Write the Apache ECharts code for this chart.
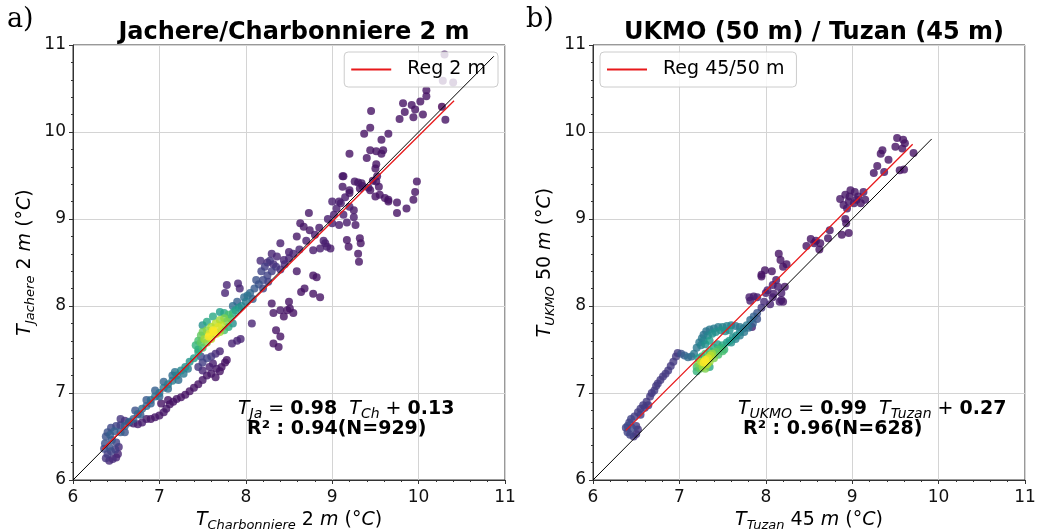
<!DOCTYPE html>
<html>
<head>
<meta charset="utf-8">
<script src="https://cdn.jsdelivr.net/npm/echarts@6/dist/echarts.min.js"></script>
<style>
  html, body { margin: 0; padding: 0; background: #fff; }
  #main { width: 1038px; height: 532px; }
</style>
</head>
<body>
<div id="main"></div>
<script>
// points : [T station x, T station y, densite relative 0..1]
var jachereData = [
  [6.38,6.25,.15],[6.42,6.22,.12],[6.46,6.24,.12],[6.5,6.26,.1],[6.52,6.3,.1],[6.4,6.3,.18],[6.44,6.33,.2],
  [6.49,6.35,.18],[6.36,6.36,.22],[6.42,6.38,.25],[6.53,6.38,.12],[6.5,6.43,.2],[6.37,6.42,.25],[6.45,6.46,.28],
  [6.38,6.5,.25],[6.4,6.55,.25],[6.44,6.6,.22],[6.5,6.62,.2],[6.55,6.63,.18],[6.48,6.56,.3],[6.43,6.52,.3],
  [6.55,6.55,.3],[6.6,6.62,.3],[6.65,6.67,.32],[6.7,6.7,.3],[6.75,6.76,.33],[6.8,6.82,.35],[6.85,6.85,.33],
  [6.9,6.92,.35],[6.95,6.96,.38],[7.0,7.0,.38],[7.05,7.06,.4],[7.1,7.1,.42],[7.15,7.14,.42],[7.2,7.2,.45],
  [7.25,7.26,.47],[7.3,7.3,.5],[7.35,7.36,.52],[7.4,7.4,.55],[7.45,7.47,.6],
  [6.72,6.8,.25],[6.85,6.92,.28],[6.95,7.03,.3],[7.05,7.13,.32],[7.15,7.2,.35],[7.28,7.22,.4],[7.22,7.15,.35],
  [7.33,7.28,.4],[6.6,6.55,.25],[6.78,6.75,.28],[6.9,6.88,.3],[7.0,6.96,.32],[7.1,7.05,.35],[7.18,7.24,.38],
  [6.6,6.68,.12],[6.65,6.66,.1],[6.7,6.65,.08],[6.75,6.64,.08],[6.8,6.66,.08],[6.85,6.7,.06],[6.9,6.7,.06],
  [6.95,6.72,.06],[7.0,6.74,.06],[7.05,6.78,.06],[6.55,6.7,.15],
  [7.08,6.82,.06],[7.12,6.87,.05],[7.16,6.9,.05],[7.2,6.93,.05],[7.25,6.95,.05],[7.3,6.98,.05],[7.35,7.02,.05],
  [7.4,7.06,.05],[7.45,7.1,.05],[7.1,6.92,.05],[7.02,6.88,.05],
  [7.5,7.15,.06],[7.55,7.2,.06],[7.6,7.22,.06],[7.65,7.18,.05],[7.7,7.25,.05],[7.72,7.3,.05],[7.76,7.35,.05],
  [7.78,7.38,.05],[7.58,7.3,.08],[7.5,7.26,.1],[7.62,7.34,.08],[7.66,7.28,.06],
  [7.45,7.3,.15],[7.5,7.35,.18],[7.55,7.4,.2],[7.48,7.42,.22],[7.6,7.42,.15],[7.65,7.45,.12],[7.7,7.48,.1],
  [7.42,7.55,.65],[7.45,7.6,.7],[7.48,7.66,.75],[7.5,7.7,.78],[7.55,7.72,.82],[7.6,7.76,.88],[7.65,7.8,.9],
  [7.7,7.84,.85],[7.75,7.86,.8],[7.8,7.9,.7],[7.85,7.92,.6],[7.52,7.62,.85],[7.58,7.68,.95],[7.62,7.72,1.0],
  [7.68,7.76,.95],[7.72,7.78,.9],[7.78,7.82,.8],[7.55,7.58,.8],[7.6,7.62,.9],[7.66,7.68,.92],[7.7,7.7,.85],
  [7.48,7.58,.75],[7.5,7.52,.7],[7.45,7.5,.62],[7.82,7.86,.7],[7.88,7.95,.55],[7.92,7.98,.5],[7.75,7.92,.6],
  [7.7,7.93,.55],[7.62,7.88,.6],[7.55,7.82,.6],[7.5,7.78,.5],[7.8,7.76,.6],[7.85,7.8,.5],[7.75,7.72,.7],
  [7.57,7.65,1.0],[7.63,7.7,1.0],
  [7.95,8.0,.45],[8.0,8.05,.42],[8.02,8.12,.38],[7.98,8.1,.35],[8.05,8.15,.33],[8.08,8.08,.3],[7.9,8.05,.3],
  [7.85,8.0,.35],[8.1,8.2,.28],[8.15,8.25,.25],[8.2,8.3,.22],[8.25,8.35,.2],[8.3,8.4,.18],[8.35,8.45,.15],
  [8.22,8.45,.18],[8.28,8.52,.15],[8.18,8.4,.2],[8.12,8.3,.25],[8.2,8.2,.2],[8.26,8.28,.18],[8.4,8.42,.12],
  [9.13,9.49,.05],[9.3,9.42,.06],[9.35,9.38,.06],[9.42,9.36,.05],[9.47,9.44,.05],[9.0,9.2,.08],[9.1,9.18,.08],
  [9.2,9.14,.08],[9.25,9.1,.06],[9.13,9.05,.08],[9.25,9.02,.07],[9.17,8.96,.07],[9.27,8.93,.06],[9.08,8.93,.07],
  [9.32,8.78,.05],[9.33,8.72,.05],[9.3,8.6,.05],[9.31,8.51,.05],[9.61,9.24,.05],[9.75,9.07,.05],[9.65,9.2,.05],
  [9.17,8.76,.05],[9.19,8.68,.05],[8.9,8.75,.08],[8.94,8.68,.08],[8.86,8.66,.08],[8.98,8.66,.07],[8.78,8.64,.07],
  [8.92,8.72,.08],[8.73,9.07,.06],[8.63,8.95,.06],[8.67,8.91,.06],[8.59,8.8,.06],[8.74,8.87,.06],[8.4,8.72,.08],
  [8.5,8.62,.08],[8.36,8.57,.1],[8.44,8.53,.1],[8.3,8.6,.1],[8.59,8.4,.06],[8.78,8.35,.05],[8.82,8.33,.05],
  [8.68,8.2,.05],[8.64,8.16,.05],[8.86,8.1,.05],[8.78,8.14,.05],[8.5,8.05,.05],[8.51,7.97,.05],[8.48,7.95,.05],
  [8.55,7.92,.05],[8.3,8.03,.06],[8.4,7.95,.06],[8.32,7.92,.06],[8.44,7.88,.05],[8.07,7.8,.1],[7.9,7.6,.1],
  [7.94,7.62,.1],[7.84,7.57,.1],[8.35,7.72,.05],[8.4,7.65,.05],[8.32,7.57,.05],[8.38,7.53,.05],[7.76,8.15,.1],
  [7.91,8.26,.1],[7.78,8.24,.1],[7.93,8.2,.1],[8.17,8.52,.12],[8.25,8.5,.12],[8.32,8.48,.12],
  [8.95,9.0,.08],[9.02,9.05,.08],[9.05,9.12,.08],[9.08,9.2,.07],[9.15,9.25,.07],[9.2,9.3,.06],[9.0,8.95,.08],
  [8.85,8.9,.07],[8.8,8.82,.07],[8.7,8.75,.08],[8.62,8.65,.1],[8.55,8.6,.1],[8.45,8.48,.12],[8.5,8.55,.1],
  [10.3,10.89,.05],[10.28,10.59,.05],[10.4,10.57,.05],[10.09,10.48,.05],[10.09,10.41,.05],[10.02,10.35,.05],
  [9.82,10.33,.05],[9.92,10.31,.05],[9.96,10.26,.05],[9.84,10.23,.05],[9.78,10.15,.05],[9.94,10.17,.05],
  [10.05,10.2,.05],[9.45,10.24,.05],[9.44,10.05,.05],[9.37,9.98,.05],[9.65,9.98,.05],[9.57,9.91,.05],
  [9.51,9.78,.05],[9.44,9.79,.05],[9.59,9.79,.05],[9.57,9.75,.05],[9.4,9.7,.05],[9.2,9.75,.05],[9.51,9.63,.05],
  [9.5,9.58,.05],[9.52,9.49,.05],[9.51,9.43,.05],[9.12,9.49,.06],[9.12,9.37,.06],[9.26,9.43,.06],[9.34,9.41,.06],
  [9.32,9.35,.06],[9.2,9.33,.06],[9.44,9.33,.05],[9.54,9.37,.05],[9.55,9.28,.05],[9.5,9.26,.05],[9.65,9.22,.05],
  [9.75,9.19,.05],[9.86,9.12,.05],[9.94,9.22,.05],[9.98,9.43,.05],[9.96,9.31,.05],[10.31,10.14,.05],
  [10.27,10.29,.0]
];

var ukmoData = [
  [6.4,6.55,.2],[6.43,6.52,.2],[6.47,6.5,.15],[6.5,6.53,.15],[6.52,6.58,.15],[6.45,6.6,.22],[6.4,6.62,.22],
  [6.42,6.66,.2],[6.38,6.6,.2],[6.5,6.62,.18],[6.44,6.7,.2],
  [6.48,6.73,.18],[6.52,6.78,.18],[6.55,6.82,.18],[6.58,6.86,.17],[6.62,6.9,.17],[6.66,6.96,.17],[6.68,7.0,.17],
  [6.71,7.03,.17],[6.73,7.08,.17],[6.75,7.11,.17],[6.78,7.15,.17],[6.81,7.19,.17],[6.84,7.22,.17],[6.87,7.26,.17],
  [6.9,7.31,.17],[6.93,7.36,.17],[6.96,7.42,.17],[6.98,7.46,.17],[6.6,6.83,.17],[6.64,6.86,.17],[6.55,6.75,.18],
  [7.02,7.45,.25],[7.06,7.43,.3],[7.1,7.41,.35],[7.14,7.42,.35],[7.17,7.45,.4],[7.2,7.52,.4],[7.23,7.58,.4],
  [7.26,7.63,.4],[7.28,7.67,.38],[7.31,7.71,.38],[7.35,7.73,.4],[7.4,7.74,.42],[7.45,7.76,.42],[7.5,7.76,.45],
  [7.55,7.77,.45],[7.6,7.78,.42],[7.65,7.77,.4],[7.7,7.76,.4],[7.33,7.66,.45],[7.38,7.68,.5],[7.42,7.7,.5],
  [7.48,7.72,.5],[7.53,7.71,.5],[7.58,7.72,.5],[7.28,7.6,.45],[7.25,7.55,.45],[7.3,7.56,.5],[7.35,7.6,.55],
  [7.2,7.3,.7],[7.22,7.34,.8],[7.25,7.36,.9],[7.28,7.35,1.0],[7.3,7.38,1.0],[7.33,7.4,.95],[7.36,7.43,.9],
  [7.38,7.45,.85],[7.24,7.28,.75],[7.27,7.3,.85],[7.32,7.33,.9],[7.35,7.36,.85],[7.4,7.4,.8],[7.42,7.47,.75],
  [7.45,7.5,.7],[7.48,7.52,.65],[7.5,7.55,.6],[7.45,7.44,.7],[7.5,7.48,.7],[7.52,7.5,.65],[7.3,7.45,.7],
  [7.26,7.42,.6],[7.22,7.4,.55],[7.35,7.48,.65],[7.4,7.52,.6],[7.44,7.56,.55],[7.55,7.58,.55],[7.58,7.6,.55],
  [7.62,7.64,.5],[7.66,7.66,.5],[7.7,7.7,.45],[7.74,7.74,.4],[7.78,7.78,.4],[7.82,7.84,.35],[7.86,7.88,.3],
  [7.9,7.92,.25],[7.6,7.58,.5],[7.65,7.62,.45],[7.7,7.66,.42],[7.75,7.7,.4],[7.8,7.75,.35],[7.85,7.8,.3],
  [7.9,7.85,.25],[7.2,7.25,.65],[7.3,7.28,.8],[7.35,7.3,.6],
  [7.81,8.1,.08],[8.08,8.1,.08],[8.18,8.07,.06],[8.0,8.15,.08],[7.95,7.98,.15],[7.98,8.05,.12],[8.05,8.02,.1],
  [7.84,7.76,.08],[7.86,8.11,.08],[8.2,8.05,.06],[8.17,8.53,.05],[8.15,8.6,.05],[8.24,8.48,.05],[8.2,8.45,.05],
  [7.95,8.36,.05],[8.07,8.4,.05],[7.99,8.41,.05],[7.95,8.34,.05],[8.08,8.24,.08],[8.14,8.22,.08],[8.18,8.15,.08],
  [8.09,8.14,.08],[8.02,8.18,.08],[7.9,8.1,.08],[7.82,8.06,.08],[8.16,8.05,.08],[8.22,8.22,.06],[8.12,8.3,.06],
  [8.47,8.69,.05],[8.52,8.77,.05],[8.58,8.75,.05],[8.63,8.72,.05],[8.56,8.72,.05],[8.74,8.87,.05],[8.72,8.78,.05],
  [8.62,8.65,.05],[8.92,9.0,.05],[8.96,8.84,.05],[8.88,8.82,.05],[8.93,8.95,.05],
  [8.86,9.23,.06],[8.92,9.28,.06],[8.98,9.33,.06],[9.03,9.31,.06],[9.13,9.31,.06],[9.07,9.26,.06],[8.96,9.2,.06],
  [9.02,9.18,.06],[8.9,9.16,.06],[9.15,9.22,.06],[8.94,9.12,.06],[9.05,9.22,.06],[9.1,9.18,.05],[8.97,9.26,.06],
  [9.52,9.93,.05],[9.59,9.91,.05],[9.5,9.83,.05],[9.58,9.81,.05],[9.61,9.87,.05],[9.35,9.79,.05],[9.33,9.75,.05],
  [9.42,9.68,.05],[9.29,9.61,.05],[9.25,9.53,.05],[9.37,9.54,.05],[9.55,9.56,.05],[9.6,9.57,.05],[9.71,9.76,.05]
];

// droites 1:1 et regressions (extremites)
var oneToOneA = [[6, 6], [10.87, 10.87]];
var regA = [[6.34, 6.35], [10.41, 10.36]];
var oneToOneB = [[6, 6], [9.92, 9.92]];
var regB = [[6.38, 6.57], [9.70, 9.86]];

var axisTicks = [6, 7, 8, 9, 10, 11];
var viridis = ['#440154', '#482878', '#3e4989', '#31688e', '#26828e', '#1f9e89', '#35b779', '#6ece58', '#b5de2b', '#fde725'];

var FONT = 'DejaVu Sans';

function byDensity(arr) {
  return arr.slice().sort(function (a, b) { return a[2] - b[2]; });
}

function nameRich() {
  return {
    t: { fontFamily: FONT, fontStyle: 'italic', fontSize: 19, color: '#000' },
    s: { fontFamily: FONT, fontStyle: 'italic', fontSize: 13, color: '#000', padding: [10, 0, 0, 0] },
    n: { fontFamily: FONT, fontSize: 19, color: '#000' },
    i: { fontFamily: FONT, fontStyle: 'italic', fontSize: 19, color: '#000' }
  };
}

function makeAxis(gridIndex, name, isY) {
  return {
    type: 'value',
    gridIndex: gridIndex,
    min: axisTicks[0],
    max: axisTicks[axisTicks.length - 1],
    interval: 1,
    name: name,
    nameLocation: 'middle',
    nameGap: isY ? 36 : 27,
    nameRotate: isY ? 90 : 0,
    nameTextStyle: { rich: nameRich() },
    axisLine: { show: true, onZero: false, lineStyle: { color: '#333', width: 1 } },
    axisTick: { show: true, length: 4, lineStyle: { color: '#333' } },
    minorTick: { show: true, splitNumber: 5, length: 2, lineStyle: { color: '#333' } },
    axisLabel: { fontFamily: FONT, fontSize: 17, color: '#111', margin: isY ? 7 : 9 },
    splitLine: { show: true, lineStyle: { color: '#d4d4d4', width: 1 } }
  };
}

function eqRich() {
  return {
    t: { fontFamily: FONT, fontStyle: 'italic', fontSize: 19, fill: '#000' },
    s: { fontFamily: FONT, fontStyle: 'italic', fontSize: 14, fill: '#000', padding: [10, 0, 0, 0] },
    n: { fontFamily: FONT, fontSize: 19, fill: '#000' },
    b: { fontFamily: FONT, fontWeight: 'bold', fontSize: 19, fill: '#000' }
  };
}

var legendStyle = {
  icon: 'rect', itemWidth: 40, itemHeight: 2, padding: [8, 12, 8, 7],
  backgroundColor: 'rgba(255,255,255,0.8)', borderColor: '#ccc', borderWidth: 1, borderRadius: 4,
  textStyle: { fontFamily: FONT, fontSize: 19, color: '#000', padding: [0, 0, 0, 11] }
};

var chart = echarts.init(document.getElementById('main'));

chart.setOption({
  backgroundColor: '#fff',
  animation: false,
  title: [
    { text: 'Jachere/Charbonniere 2 m', left: 289, top: 16, textAlign: 'center',
      textStyle: { fontFamily: FONT, fontWeight: 'bold', fontSize: 24, color: '#000' } },
    { text: 'UKMO (50 m) / Tuzan (45 m)', left: 809, top: 16, textAlign: 'center',
      textStyle: { fontFamily: FONT, fontWeight: 'bold', fontSize: 24, color: '#000' } }
  ],
  graphic: [
    { type: 'text', left: 7, top: 6, style: { text: 'a)', fontFamily: 'DejaVu Serif', fontSize: 27, fill: '#000' } },
    { type: 'text', left: 526, top: 6, style: { text: 'b)', fontFamily: 'DejaVu Serif', fontSize: 27, fill: '#000' } },
    { type: 'text', left: 238, top: 400, z: 10, style: {
      text: '{t|T}{s|Ja}{n| = }{b|0.98}{n|  }{t|T}{s|Ch}{n| + }{b|0.13}', rich: eqRich() } },
    { type: 'text', left: 247, top: 420, z: 10, style: {
      text: '{b|R² : 0.94(N=929)}', rich: eqRich() } },
    { type: 'text', left: 738, top: 400, z: 10, style: {
      text: '{t|T}{s|UKMO}{n| = }{b|0.99}{n|  }{t|T}{s|Tuzan}{n| + }{b|0.27}', rich: eqRich() } },
    { type: 'text', left: 743, top: 420, z: 10, style: {
      text: '{b|R² : 0.96(N=628)}', rich: eqRich() } }
  ],
  legend: [
    Object.assign({ data: ['Reg 2 m'], right: 540, top: 52 }, legendStyle),
    Object.assign({ data: ['Reg 45/50 m'], left: 600, top: 52 }, legendStyle)
  ],
  grid: [
    { left: 73, top: 45, width: 432, height: 435, outerBoundsMode: 'none',
      show: true, borderColor: '#333', borderWidth: 1 },
    { left: 593, top: 45, width: 432, height: 435, outerBoundsMode: 'none',
      show: true, borderColor: '#333', borderWidth: 1 }
  ],
  xAxis: [
    makeAxis(0, '{t|T}{s|Charbonniere}{n| 2 }{i|m}{n| (°}{i|C}{n|)}', false),
    makeAxis(1, '{t|T}{s|Tuzan}{n| 45 }{i|m}{n| (°}{i|C}{n|)}', false)
  ],
  yAxis: [
    makeAxis(0, '{t|T}{s|Jachere}{n| 2 }{i|m}{n| (°}{i|C}{n|)}', true),
    makeAxis(1, '{t|T}{s|UKMO}{n| 50 }{i|m}{n| (°}{i|C}{n|)}', true)
  ],
  visualMap: {
    type: 'continuous', show: false, dimension: 2, min: 0, max: 1,
    seriesIndex: [0, 3], inRange: { color: viridis }
  },
  series: [
    { type: 'scatter', xAxisIndex: 0, yAxisIndex: 0, symbolSize: 8, data: byDensity(jachereData) },
    { type: 'line', xAxisIndex: 0, yAxisIndex: 0, symbol: 'none', z: 5,
      lineStyle: { color: '#000', width: 1 }, data: oneToOneA },
    { name: 'Reg 2 m', type: 'line', xAxisIndex: 0, yAxisIndex: 0, symbol: 'none', z: 6,
      itemStyle: { color: '#e8191b' }, lineStyle: { color: '#e8191b', width: 1.3 }, data: regA },
    { type: 'scatter', xAxisIndex: 1, yAxisIndex: 1, symbolSize: 8, data: byDensity(ukmoData) },
    { type: 'line', xAxisIndex: 1, yAxisIndex: 1, symbol: 'none', z: 5,
      lineStyle: { color: '#000', width: 1 }, data: oneToOneB },
    { name: 'Reg 45/50 m', type: 'line', xAxisIndex: 1, yAxisIndex: 1, symbol: 'none', z: 6,
      itemStyle: { color: '#e8191b' }, lineStyle: { color: '#e8191b', width: 1.3 }, data: regB }
  ]
});
</script>
</body>
</html>
